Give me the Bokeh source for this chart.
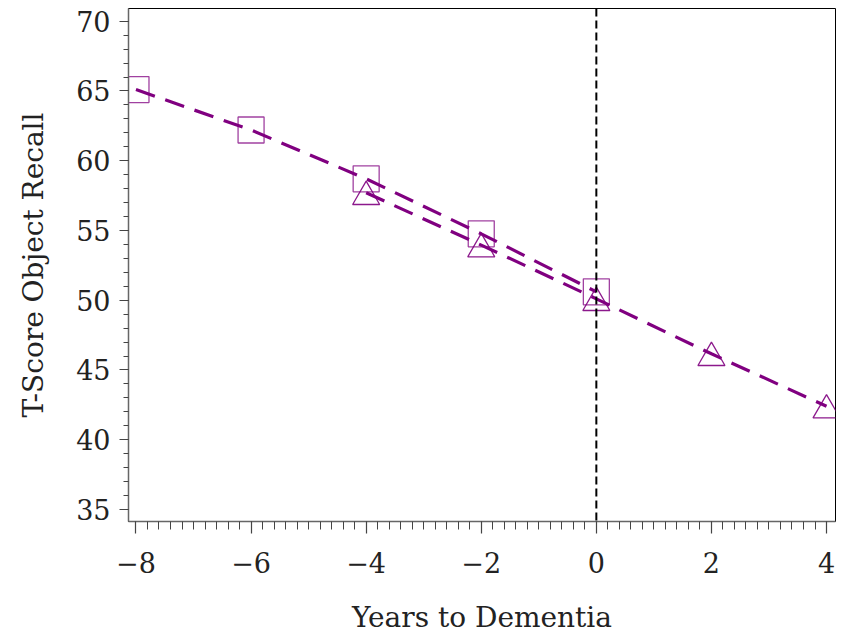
from bokeh.plotting import figure
from bokeh.models import Range1d, Span, FixedTicker, ColumnDataSource
from bokeh.transform import dodge
from bokeh.embed import file_html
from bokeh.resources import INLINE

# ---- data ----
years_a = [-8, -6, -4, -2, 0]
score_a = [65.1, 62.2, 58.7, 54.76, 50.6]
years_b = [-4, -2, 0, 2, 4]
score_b = [57.7, 53.95, 50.1, 46.16, 42.4]
x_ticks = [-8, -6, -4, -2, 0, 2, 4]
x_tick_labels = ["\u22128", "\u22126", "\u22124", "\u22122", "0", "2", "4"]
y_ticks = [35, 40, 45, 50, 55, 60, 65, 70]
x_label = "Years to Dementia"
y_label = "T-Score Object Recall"

PURPLE = "#800080"
FONT = "DejaVu Serif"
FRAME_H = 513
Y0, Y1 = 34.14, 70.91
TRI_SIZE = 27

p = figure(width=838, height=626, output_backend="svg", toolbar_location=None,
           x_range=Range1d(-8.13, 4.156), y_range=Range1d(Y0, Y1),
           frame_width=707, frame_height=FRAME_H,
           min_border_left=128, min_border_right=3, min_border_top=8,
           min_border_bottom=105)
p.background_fill_color = "white"
p.border_fill_color = "white"
p.outline_line_color = "black"
p.outline_line_width = 1
p.grid.visible = False

src_a = ColumnDataSource(dict(x=years_a, y=score_a))
src_b = ColumnDataSource(dict(x=years_b, y=score_b))

p.add_layout(Span(location=0, dimension="height", line_color="black",
                  line_width=2, line_dash="8 4"))

p.line("x", "y", source=src_a, line_color=PURPLE, line_width=3.2, line_dash="20 11")
p.line("x", "y", source=src_b, line_color=PURPLE, line_width=3.2, line_dash="20 11")

p.scatter("x", "y", source=src_a, marker="square", size=26, fill_color=None,
          line_color=PURPLE, line_width=1.3, line_alpha=0.75)
px_per_unit = FRAME_H / (Y1 - Y0)
tri_shift = -0.144 * TRI_SIZE / px_per_unit
p.scatter("x", dodge("y", tri_shift, range=p.y_range), source=src_b,
          marker="triangle", size=TRI_SIZE, fill_color=None,
          line_color=PURPLE, line_width=1.3, line_alpha=0.9)

xa = p.xaxis[0]
xa.ticker = FixedTicker(ticks=x_ticks,
                        minor_ticks=[x_ticks[0] + 0.2 * i for i in range(61)])
xa.major_label_overrides = {t: l for t, l in zip(x_ticks, x_tick_labels)}
xa.major_tick_out = 12
xa.major_tick_in = 0
xa.minor_tick_out = 8
xa.minor_tick_in = 0
xa.major_label_standoff = 18
xa.axis_label = x_label
xa.axis_label_standoff = 25

ya = p.yaxis[0]
ya.ticker = FixedTicker(ticks=y_ticks, minor_ticks=list(range(35, 71)))
ya.major_tick_out = 9
ya.major_tick_in = 0
ya.minor_tick_out = 5
ya.minor_tick_in = 0
ya.major_label_standoff = 9
ya.axis_label = y_label
ya.axis_label_standoff = 23

for ax in (xa, ya):
    ax.axis_line_color = "#666666"
    ax.axis_line_width = 1.5
    ax.major_tick_line_color = "#444444"
    ax.minor_tick_line_color = "#444444"
    ax.major_tick_line_width = 1.2
    ax.minor_tick_line_width = 1
    ax.major_label_text_font = FONT
    ax.major_label_text_font_size = "27px"
    ax.major_label_text_color = "#222222"
    ax.axis_label_text_font = FONT
    ax.axis_label_text_font_size = "28px"
    ax.axis_label_text_font_style = "normal"
    ax.axis_label_text_color = "#222222"

open("out.html", "w").write(file_html(p, INLINE))
